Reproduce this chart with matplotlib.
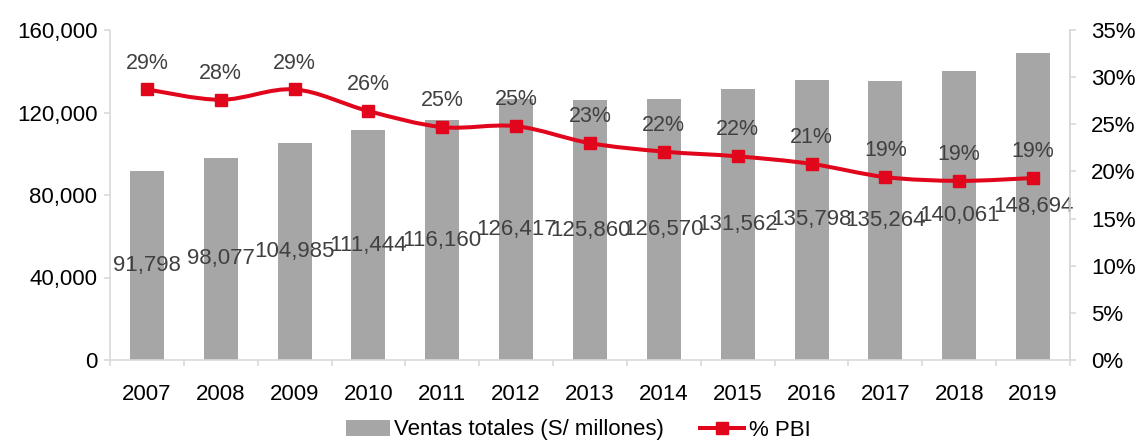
import matplotlib
matplotlib.use('Agg')
import matplotlib.pyplot as plt
from matplotlib.path import Path
from matplotlib.patches import PathPatch, Patch
from matplotlib.lines import Line2D
from matplotlib.ticker import FuncFormatter, FixedLocator
import numpy as np

years = ['2007', '2008', '2009', '2010', '2011', '2012', '2013',
         '2014', '2015', '2016', '2017', '2018', '2019']
ventas = [91798, 98077, 104985, 111444, 116160, 126417, 125860,
          126570, 131562, 135798, 135264, 140061, 148694]
pct_pbi = [28.7, 27.6, 28.7, 26.4, 24.7, 24.8, 23.0,
           22.1, 21.6, 20.8, 19.4, 19.0, 19.3]

left_ticks = [0, 40000, 80000, 120000, 160000]
right_ticks = [0, 5, 10, 15, 20, 25, 30, 35]

plt.rcParams['font.family'] = ['Liberation Sans', 'DejaVu Sans']

BAR = '#A6A6A6'
RED = '#E1061B'
SPINE = '#D9D9D9'
LBL = '#404040'

W, H = 1139, 441
fig = plt.figure(figsize=(W / 100, H / 100), dpi=100)
ax = fig.add_axes([110 / W, 81 / H, 960 / W, 330 / H])

x = np.arange(len(years))
bars = ax.bar(x, ventas, width=0.46, color=BAR, zorder=2)
ax.bar_label(bars, labels=[f'{v:,}' for v in ventas], label_type='center',
             fontsize=16, color=LBL)

ax.set_xlim(-0.5, len(years) - 0.5)
ax.set_ylim(left_ticks[0], left_ticks[-1])
ax.yaxis.set_major_locator(FixedLocator(left_ticks))
ax.yaxis.set_major_formatter(FuncFormatter(lambda v, p: f'{v:,.0f}'))
ax.set_xticks(x)
ax.set_xticklabels(years)
ax.xaxis.set_minor_locator(FixedLocator(np.arange(-0.5, len(years), 1.0)))
ax.tick_params(axis='x', which='major', length=0, pad=17, labelsize=16, colors='black')
ax.tick_params(axis='x', which='minor', length=4, color=SPINE, width=1.2)
ax.tick_params(axis='y', length=4, color=SPINE, width=1.2, pad=5, labelsize=16,
               labelcolor='black')
for s in ['top']:
    ax.spines[s].set_visible(False)
for s in ['left', 'right', 'bottom']:
    ax.spines[s].set_color(SPINE)
    ax.spines[s].set_linewidth(1.2)

ax2 = ax.twinx()
ax2.set_ylim(right_ticks[0], right_ticks[-1])
ax2.yaxis.set_major_locator(FixedLocator(right_ticks))
ax2.yaxis.set_major_formatter(FuncFormatter(lambda v, p: f'{v:.0f}%'))
ax2.tick_params(axis='y', length=4, color=SPINE, width=1.2, pad=11, labelsize=16,
                labelcolor='black')
for s in ['top', 'left', 'bottom']:
    ax2.spines[s].set_visible(False)
ax2.spines['right'].set_color(SPINE)
ax2.spines['right'].set_linewidth(1.2)

# smoothed line (Catmull-Rom style cubic Bezier through data points)
pts = np.column_stack([x, pct_pbi]).astype(float)
n = len(pts)
verts = [pts[0]]
codes = [Path.MOVETO]
for i in range(n - 1):
    p0 = pts[max(i - 1, 0)]
    p1 = pts[i]
    p2 = pts[i + 1]
    p3 = pts[min(i + 2, n - 1)]
    c1 = p1 + (p2 - p0) / 6.0
    c2 = p2 - (p3 - p1) / 6.0
    verts += [c1, c2, p2]
    codes += [Path.CURVE4] * 3
ax2.add_patch(PathPatch(Path(verts, codes), facecolor='none', edgecolor=RED,
                        linewidth=2.9, capstyle='round', joinstyle='round', zorder=3))
ax2.plot(x, pct_pbi, linestyle='none', marker='s', markersize=8,
         color=RED, zorder=4)

for xi, p in zip(x, pct_pbi):
    ax2.annotate(f'{round(p)}%', (xi, p), xytext=(0, 19), textcoords='offset points',
                 ha='center', va='center', fontsize=15.5, color=LBL, zorder=5)

handles = [Patch(facecolor=BAR, edgecolor='none'),
           Line2D([], [], color=RED, linewidth=2.9, marker='s', markersize=8)]
fig.legend(handles, ['Ventas totales (S/ millones)', '% PBI'], loc='center',
           bbox_to_anchor=(578 / W, 11 / H), ncol=2, frameon=False, fontsize=16,
           handlelength=2.0, handletextpad=0.2, columnspacing=1.6)

fig.savefig('out.png', dpi=100)
